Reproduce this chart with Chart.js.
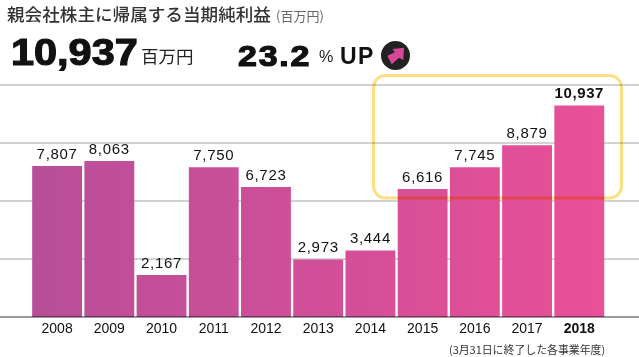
<!DOCTYPE html>
<html>
<head>
<meta charset="utf-8">
<script src="https://cdn.jsdelivr.net/npm/chart.js@4"></script>
<style>
html, body { margin: 0; padding: 0; background: #fff; }
#wrap { position: relative; width: 639px; height: 357px; overflow: hidden; }
canvas { position: absolute; left: 0; top: 0; }
.t { position: absolute; white-space: nowrap; line-height: 1; transform-origin: left center; }
.jp { font-family: "Noto Sans CJK JP", sans-serif; }
.num { font-family: "Liberation Sans", sans-serif; font-weight: 700; color: #111; -webkit-text-stroke: 1.2px #111; }
</style>
</head>
<body>
<div id="wrap">
  <canvas id="chart" width="639" height="357"></canvas>
  <div class="t jp" style="left:7px;top:5px;font-size:17.6px;font-weight:500;color:#333">親会社株主に帰属する当期純利益</div>
  <div class="t jp" style="left:276px;top:9px;font-size:13px;color:#666">(百万円)</div>
  <div class="t num" style="left:11px;top:34px;font-size:37px;transform:scaleX(1.12)">10,937</div>
  <div class="t jp" style="left:141px;top:47px;font-size:17.5px;color:#222">百万円</div>
  <div class="t num" style="left:238px;top:42px;font-size:29px;letter-spacing:1.5px;transform:scaleX(1.17)">23.2</div>
  <div class="t" style="left:319px;top:48px;font-size:17px;font-family:'Liberation Sans';color:#222;transform:scaleX(0.95)">%</div>
  <div class="t" style="left:340px;top:45px;font-size:23px;font-weight:700;letter-spacing:1.5px;font-family:'Liberation Sans';color:#111">UP</div>
  <svg style="position:absolute;left:381px;top:41px" width="29" height="29" viewBox="0 0 29 29">
    <circle cx="14.5" cy="14.5" r="14.5" fill="#222"></circle>
    <path d="M23 6.7 L11.3 8 L14 11.3 L6.3 14.7 L10.7 23.3 L18 16.7 L22.3 19 Z" fill="#d6479a"></path>
  </svg>
  <div class="t jp" style="left:449px;top:344px;font-size:10.9px;color:#333">(3月31日に終了した各事業年度)</div>
</div>
<script>
const years = ['2008', '2009', '2010', '2011', '2012', '2013', '2014', '2015', '2016', '2017', '2018'];
const profit = [7807, 8063, 2167, 7750, 6723, 2973, 3444, 6616, 7745, 8879, 10937];
const yTicks = [0, 3000, 6000, 9000, 12000];

// grid runs the full page width, so it is not the scale's own grid
const fullGrid = {
  id: 'fullGrid',
  beforeDatasetsDraw(chart) {
    const c = chart.ctx, y = chart.scales.y;
    c.save();
    c.strokeStyle = '#d2d2d2';
    c.lineWidth = 2;
    yTicks.forEach(v => {
      if (v === 0) return;
      const py = y.getPixelForValue(v);
      c.beginPath();
      c.moveTo(0, py);
      c.lineTo(chart.width, py);
      c.stroke();
    });
    c.restore();
  },
  afterDatasetsDraw(chart) {
    const c = chart.ctx, y = chart.scales.y;
    const py = y.getPixelForValue(0);
    c.save();
    c.globalCompositeOperation = 'multiply';
    // base line
    c.strokeStyle = '#999';
    c.lineWidth = 2;
    c.beginPath();
    c.moveTo(0, py);
    c.lineTo(chart.width, py);
    c.stroke();
    // yellow highlight box
    c.strokeStyle = '#fddf82';
    c.lineWidth = 3;
    c.beginPath();
    c.roundRect(373.5, 75.5, 248, 122.5, 12);
    c.stroke();
    c.restore();

    // value labels
    const meta = chart.getDatasetMeta(0);
    c.save();
    c.textAlign = 'center';
    c.textBaseline = 'bottom';
    c.fillStyle = '#111';
    meta.data.forEach((bar, i) => {
      const last = i === profit.length - 1;
      c.font = (last ? 'bold ' : '') + '15px "Liberation Sans"';
      c.letterSpacing = last ? '0.6px' : '0.7px';
      c.fillText(profit[i].toLocaleString('en-US'), bar.x, bar.y - 4);
    });
    c.restore();
  }
};

new Chart(document.getElementById('chart'), {
  type: 'bar',
  data: {
    labels: years,
    datasets: [{
      data: profit,
      backgroundColor(ctx) {
        const area = ctx.chart.chartArea;
        if (!area) return '#d04f98';
        const g = ctx.chart.ctx.createLinearGradient(area.left, 0, area.right, 0);
        g.addColorStop(0, '#b84e98');
        g.addColorStop(1, '#e95098');
        return g;
      },
      categoryPercentage: 1,
      barPercentage: 0.955
    }]
  },
  options: {
    responsive: false,
    animation: false,
    layout: { padding: { left: 31, right: 33.6, top: 85, bottom: 0 } },
    plugins: { legend: { display: false }, tooltip: { enabled: false } },
    scales: {
      x: {
        grid: { display: false, drawTicks: false, tickLength: 0 },
        border: { display: false },
        afterFit(scale) { scale.height = 40; },
        ticks: {
          padding: 4,
          autoSkip: false,
          maxRotation: 0,
          color: '#111',
          font(ctx) {
            return { family: 'Liberation Sans', size: 14, weight: ctx.index === years.length - 1 ? 'bold' : 'normal' };
          }
        }
      },
      y: { display: false, min: 0, max: 12000, ticks: { stepSize: 3000 } }
    }
  },
  plugins: [fullGrid]
});
</script>
</body>
</html>
